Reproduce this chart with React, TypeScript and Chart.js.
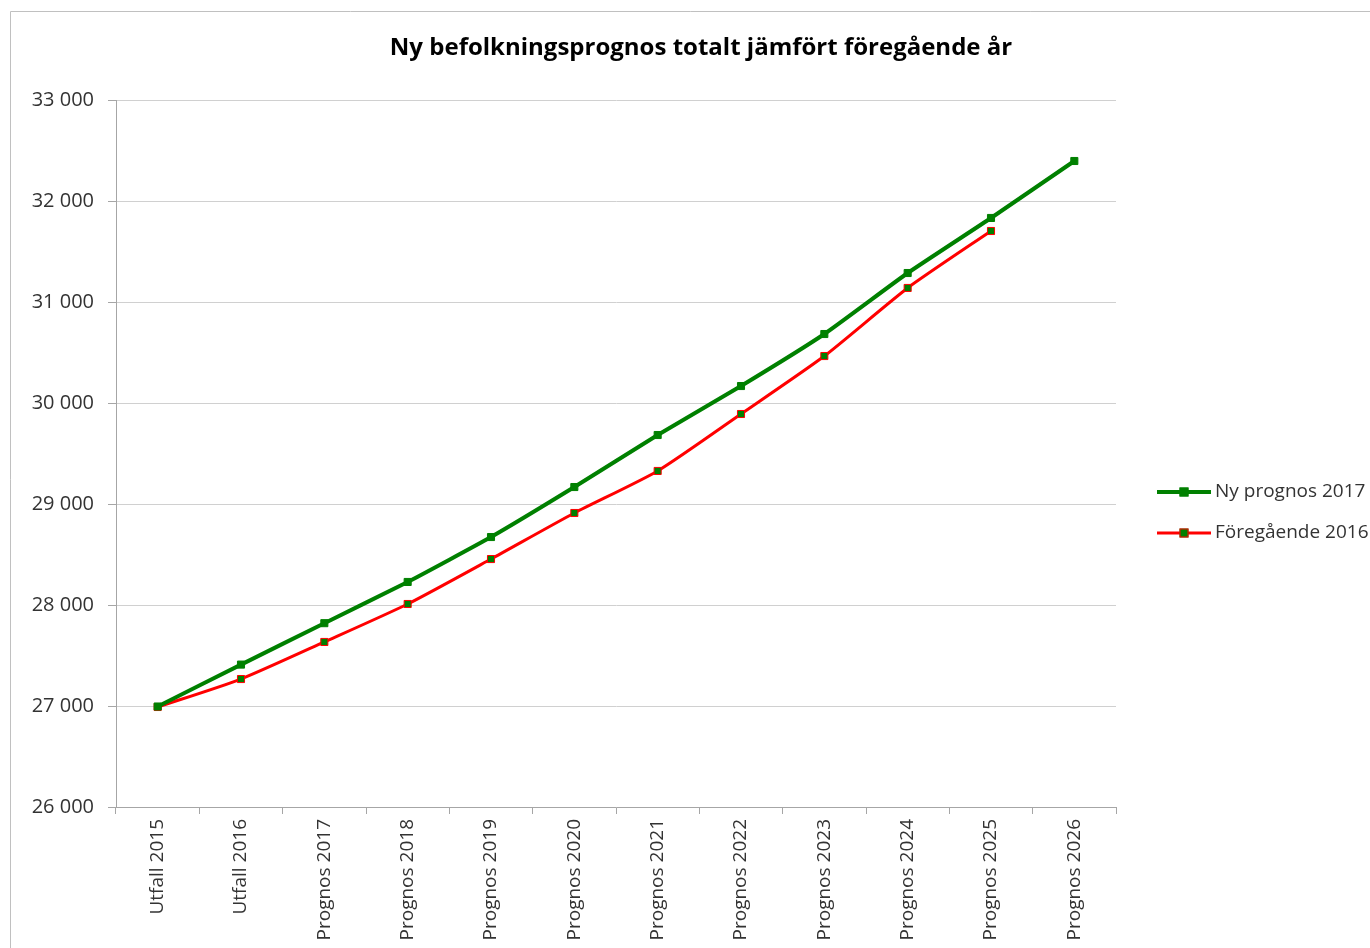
import React, { useEffect, useRef } from "react";
import { Chart, registerables } from "chart.js";

Chart.register(...registerables);

const chartTitle = "Ny befolkningsprognos totalt jämfört föregående år";
const categories = [
  "Utfall 2015", "Utfall 2016", "Prognos 2017", "Prognos 2018", "Prognos 2019", "Prognos 2020",
  "Prognos 2021", "Prognos 2022", "Prognos 2023", "Prognos 2024", "Prognos 2025", "Prognos 2026",
];
const seriesNames = ["Ny prognos 2017", "Föregående 2016"];
const nyPrognos2017 = [26995, 27410, 27820, 28228, 28673, 29168, 29683, 30168, 30683, 31287, 31832, 32396];
const foregaende2016 = [26990, 27267, 27634, 28010, 28455, 28911, 29327, 29891, 30465, 31139, 31703, null];
const yMin = 26000;
const yMax = 33000;
const yStep = 1000;

const FONT = "'Open Sans', 'Liberation Sans', sans-serif";
const GREEN = "#008000";
const RED = "#FF0000";

const fmt = (v: number) => {
  const s = Math.round(v).toString();
  return s.replace(/\B(?=(\d{3})+(?!\d))/g, " ");
};

const decorPlugin = {
  id: "decor",
  beforeDraw(chart: any) {
    const ctx = chart.ctx;
    ctx.save();
    ctx.fillStyle = "#ffffff";
    ctx.fillRect(0, 0, chart.width, chart.height);
    ctx.strokeStyle = "#c0c0c0";
    ctx.lineWidth = 1;
    ctx.beginPath();
    ctx.moveTo(10.5, chart.height);
    ctx.lineTo(10.5, 11.5);
    ctx.lineTo(chart.width, 11.5);
    ctx.stroke();
    ctx.restore();
  },
  afterDraw(chart: any) {
    const ctx = chart.ctx;
    const area = chart.chartArea;
    ctx.save();
    // title
    ctx.fillStyle = "#000000";
    ctx.font = `bold 24px ${FONT}`;
    ctx.textAlign = "center";
    ctx.textBaseline = "middle";
    ctx.fillText(chartTitle, 701, 48);
    // legend
    const lx = area.right + 41;
    const ys = [492, 533];
    chart.data.datasets.forEach((ds: any, i: number) => {
      const y = ys[i];
      ctx.strokeStyle = ds.borderColor;
      ctx.lineWidth = ds.borderWidth;
      ctx.beginPath();
      ctx.moveTo(lx, y);
      ctx.lineTo(lx + 54, y);
      ctx.stroke();
      const r = 4.5;
      ctx.fillStyle = ds.pointBackgroundColor;
      ctx.fillRect(lx + 27 - r, y - r, 2 * r, 2 * r);
      ctx.strokeStyle = ds.pointBorderColor;
      ctx.lineWidth = 1;
      ctx.strokeRect(lx + 27 - r + 0.5, y - r + 0.5, 2 * r - 1, 2 * r - 1);
      ctx.fillStyle = "#333333";
      ctx.font = `19px ${FONT}`;
      ctx.textAlign = "left";
      ctx.textBaseline = "middle";
      ctx.fillText(ds.label, lx + 58, y);
    });
    ctx.restore();
  },
};

export default function App() {
  const ref = useRef<HTMLCanvasElement | null>(null);
  useEffect(() => {
    if (!ref.current) return;
    const chart = new Chart(ref.current, {
      type: "line",
      data: {
        labels: categories,
        datasets: [
          {
            label: seriesNames[0],
            data: nyPrognos2017,
            borderColor: GREEN,
            backgroundColor: GREEN,
            borderWidth: 4,
            pointStyle: "rect",
            pointRadius: 5,
            pointBackgroundColor: GREEN,
            pointBorderColor: GREEN,
            pointBorderWidth: 1,
            tension: 0.15,
          },
          {
            label: seriesNames[1],
            data: foregaende2016,
            borderColor: RED,
            backgroundColor: RED,
            borderWidth: 3,
            pointStyle: "rect",
            pointRadius: 5,
            pointBackgroundColor: GREEN,
            pointBorderColor: RED,
            pointBorderWidth: 1,
            tension: 0.2,
          },
        ],
      },
      options: {
        responsive: false,
        animation: false,
        devicePixelRatio: 1,
        layout: { padding: { left: 0, top: 100, right: 254, bottom: 0 } },
        plugins: {
          legend: { display: false },
          title: { display: false },
          tooltip: { enabled: false },
        },
        scales: {
          x: {
            type: "category",
            offset: true,
            afterFit: (s: any) => { s.height = 141; },
            grid: {
              offset: true,
              drawOnChartArea: false,
              drawTicks: true,
              tickLength: 7,
              color: "#a6a6a6",
            },
            border: { display: true, color: "#a6a6a6", width: 1 },
            ticks: {
              autoSkip: false,
              maxRotation: 90,
              minRotation: 90,
              padding: 5,
              color: "#333333",
              font: { family: FONT, size: 19 },
            },
          },
          y: {
            min: yMin,
            max: yMax,
            afterFit: (s: any) => { s.width = 116; },
            grid: {
              color: "#d0d0d0",
              tickColor: "#a6a6a6",
              tickLength: 8,
              drawTicks: true,
            },
            border: { display: true, color: "#a6a6a6", width: 1 },
            ticks: {
              stepSize: yStep,
              padding: 14,
              color: "#333333",
              font: { family: FONT, size: 20 },
              callback: (v: any) => fmt(Number(v)),
            },
          },
        },
      },
      plugins: [decorPlugin],
    });
    return () => chart.destroy();
  }, []);
  return (
    <div style={{ position: "absolute", left: 0, top: 0, width: 1370, height: 948 }}>
      <canvas ref={ref} width={1370} height={948} style={{ display: "block" }} />
    </div>
  );
}
